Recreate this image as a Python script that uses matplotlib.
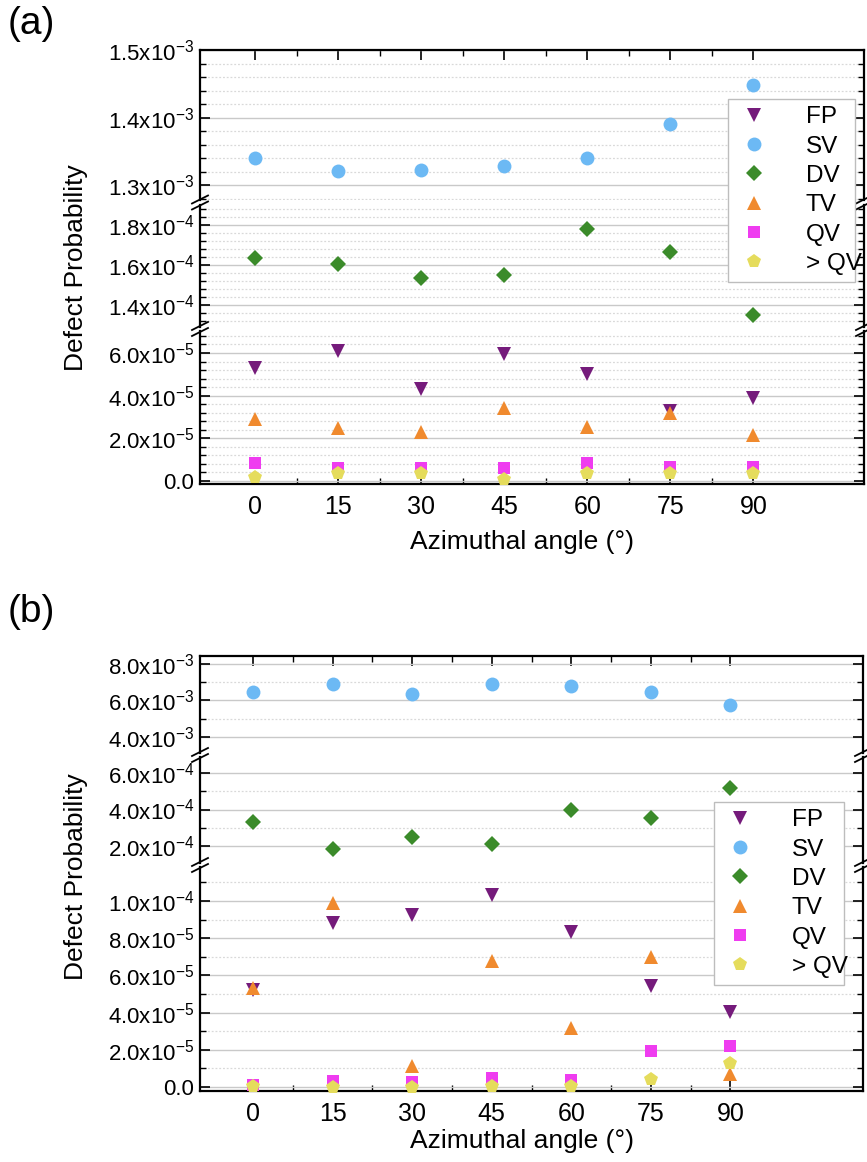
import numpy as np
import matplotlib
matplotlib.use("Agg")
import matplotlib.pyplot as plt
from matplotlib.lines import Line2D
from matplotlib.ticker import FixedLocator, MultipleLocator, FuncFormatter

plt.rcParams['font.family'] = ['Liberation Sans', 'DejaVu Sans']
plt.rcParams['mathtext.fontset'] = 'custom'
plt.rcParams['mathtext.rm'] = 'Liberation Sans'
plt.rcParams['mathtext.it'] = 'Liberation Sans:italic'
plt.rcParams['mathtext.bf'] = 'Liberation Sans:bold'

# ---- data ----
angles = [0, 15, 30, 45, 60, 75, 90]
names = ["FP", "SV", "DV", "TV", "QV", "> QV"]

# panel (a)
fp_a = [5.3e-5, 6.1e-5, 4.3e-5, 5.95e-5, 5.0e-5, 3.3e-5, 3.9e-5]
sv_a = [1.340e-3, 1.321e-3, 1.322e-3, 1.328e-3, 1.340e-3, 1.390e-3, 1.448e-3]
dv_a = [1.635e-4, 1.605e-4, 1.535e-4, 1.55e-4, 1.78e-4, 1.665e-4, 1.35e-4]
tv_a = [2.9e-5, 2.5e-5, 2.3e-5, 3.4e-5, 2.55e-5, 3.2e-5, 2.15e-5]
qv_a = [0.84e-5, 0.6e-5, 0.6e-5, 0.6e-5, 0.84e-5, 0.65e-5, 0.65e-5]
gqv_a = [0.19e-5, 0.37e-5, 0.37e-5, 0.1e-5, 0.37e-5, 0.37e-5, 0.37e-5]

# panel (b)
fp_b = [5.2e-5, 8.8e-5, 9.25e-5, 1.03e-4, 8.35e-5, 5.45e-5, 4.05e-5]
sv_b = [6.44e-3, 6.93e-3, 6.38e-3, 6.93e-3, 6.82e-3, 6.44e-3, 5.73e-3]
dv_b = [3.34e-4, 1.84e-4, 2.49e-4, 2.1e-4, 3.95e-4, 3.51e-4, 5.2e-4]
tv_b = [5.3e-5, 9.9e-5, 1.1e-5, 6.8e-5, 3.15e-5, 7.0e-5, 0.7e-5]
qv_b = [0.1e-5, 0.32e-5, 0.27e-5, 0.48e-5, 0.38e-5, 1.94e-5, 2.2e-5]
gqv_b = [0.05e-5, 0.0, 0.0, 0.05e-5, 0.05e-5, 0.43e-5, 1.29e-5]

colors = ["#751b7b", "#6cb9f4", "#3b8b2a", "#f08a2e", "#ef3cf0", "#e5dc5c"]
markers = ["v", "o", "D", "^", "s", "p"]
msizes = [10, 10, 8.5, 10, 8.5, 10]

W, H = 867, 1162
fig = plt.figure(figsize=(W / 100, H / 100), dpi=100)


def fx(px):
    return px / W


def fy(py):
    return 1 - py / H


def sci_fmt(v, pos=None):
    if abs(v) < 1e-12:
        return "0.0"
    e = int(np.floor(np.log10(abs(v)) + 1e-9))
    m = v / 10 ** e
    return f"{m:.1f}x10$^{{{e}}}$"


def panel(series, segs, xlim, left, right, tag, tag_y, ylab_y, xlab_y):
    axes = []
    n = len(segs)
    for i, (top, bot, lo, hi, majors, minor) in enumerate(segs):
        ax = fig.add_axes([fx(left), fy(bot), fx(right) - fx(left), (bot - top) / H])
        for k, vals in enumerate(series):
            v = np.array(vals)
            keep = (v >= lo) & (v <= hi)
            ax.plot(np.array(angles)[keep], v[keep], linestyle="none", marker=markers[k],
                    color=colors[k], markersize=msizes[k], markeredgewidth=0,
                    label=names[k], zorder=3, clip_on=False)
        ax.set_xlim(*xlim)
        ax.set_ylim(lo, hi)
        ax.yaxis.set_major_locator(FixedLocator(majors))
        ax.yaxis.set_minor_locator(MultipleLocator(minor))
        ax.yaxis.set_major_formatter(FuncFormatter(sci_fmt))
        ax.xaxis.set_major_locator(FixedLocator(angles))
        ax.xaxis.set_minor_locator(FixedLocator([7.5 + 15 * j for j in range(6)]))
        ax.grid(True, which="major", axis="y", color="#c9c9c9", lw=1.0)
        ax.grid(True, which="minor", axis="y", color="#d9d9d9", lw=0.9, ls=(0, (1.5, 1.5)))
        ax.set_axisbelow(True)
        ax.tick_params(axis="y", which="both", direction="in", left=True, right=True,
                       labelsize=16, pad=4)
        ax.tick_params(axis="y", which="major", length=7, width=1.2)
        ax.tick_params(axis="y", which="minor", length=4, width=1.0)
        ax.tick_params(axis="x", which="both", direction="in", top=(i == 0),
                       bottom=(i == n - 1), labelbottom=(i == n - 1),
                       labelsize=18, pad=8)
        ax.tick_params(axis="x", which="major", length=7, width=1.2)
        ax.tick_params(axis="x", which="minor", length=4, width=1.0)
        for s in ax.spines.values():
            s.set_linewidth(1.6)
        if i > 0:
            ax.spines["top"].set_visible(False)
        if i < n - 1:
            ax.spines["bottom"].set_visible(False)
        axes.append(ax)

    # break marks on both side spines
    for i in range(n - 1):
        gy = (segs[i][1] + segs[i + 1][0]) / 2
        for xs in (left, right):
            for dy in (-3, 3):
                fig.add_artist(Line2D([fx(xs - 8), fx(xs + 8)],
                                      [fy(gy + dy + 4), fy(gy + dy - 4)],
                                      color="black", lw=1.3))

    fig.text(fx(8), fy(tag_y), tag, fontsize=28, va="center", ha="left")
    fig.text(fx(76), fy(ylab_y), "Defect Probability", rotation=90,
             fontsize=19, va="center", ha="center")
    fig.text(fx(522), fy(xlab_y), "Azimuthal angle (°)",
             fontsize=19, va="center", ha="center")
    return axes


segs_a = [
    (50, 200, 1.278e-3, 1.5e-3, [1.3e-3, 1.4e-3, 1.5e-3], 2e-5),
    (205, 327, 1.29e-4, 1.9e-4, [1.4e-4, 1.6e-4, 1.8e-4], 4e-6),
    (331, 484, -1.4e-6, 7.03e-5, [0, 2e-5, 4e-5, 6e-5], 4e-6),
]
segs_b = [
    (656, 753, 3.12e-3, 8.44e-3, [4e-3, 6e-3, 8e-3], 1e-3),
    (757, 863, 1.07e-4, 6.88e-4, [2e-4, 4e-4, 6e-4], 1e-4),
    (867, 1091, -2.2e-6, 1.183e-4, [0, 2e-5, 4e-5, 6e-5, 8e-5, 1e-4], 1e-5),
]

ax_a = panel([fp_a, sv_a, dv_a, tv_a, qv_a, gqv_a], segs_a, (-10, 110), 200, 864,
             "(a)", 24, 268, 542)
ax_b = panel([fp_b, sv_b, dv_b, tv_b, qv_b, gqv_b], segs_b, (-10, 115), 200, 863,
             "(b)", 612, 877, 1141)

handles, labels = ax_b[2].get_legend_handles_labels()
for (x0, y0, x1, y1) in [(728, 99, 855, 287), (714, 802, 844, 993)]:
    fig.legend(handles, labels, loc="upper left",
               bbox_to_anchor=(fx(x0), fy(y1), fx(x1) - fx(x0), (y1 - y0) / H),
               mode="expand", fontsize=17.5, frameon=True, fancybox=False,
               edgecolor="#bdbdbd", framealpha=1, borderpad=0.3,
               labelspacing=0.3, handletextpad=1.4, handlelength=1.5,
               borderaxespad=0)

fig.savefig("out.png", dpi=100)
